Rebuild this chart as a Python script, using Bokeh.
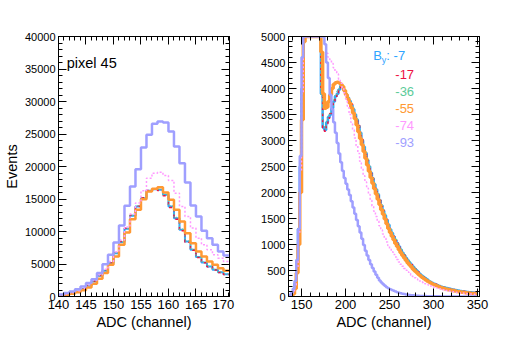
from bokeh.plotting import figure
from bokeh.layouts import row
from bokeh.models import LinearAxis, SingleIntervalTicker, Label, Range1d, CustomJSTickFormatter
from bokeh.embed import file_html
from bokeh.resources import INLINE

FONT = "Liberation Sans"

# ---------------- series ----------------
series_names = ["-7", "-17", "-36", "-55", "-74", "-93"]
series_colors = ["#2fa4ff", "#ee1144", "#5ccb9a", "#ff9933", "#ff99ff", "#9f9fff"]

# ---------------- left panel: pixel 45, bin width 1, bins 140..170 ----------------
left_bin_lo = list(range(140, 171))
left_bin_width = 1
left_m7 = [210, 360, 520, 770, 1130, 1650, 2310, 3180, 3950, 5130,
           6670, 8360, 10410, 12410, 13850, 15130, 16260, 16510, 16410, 15640,
           13850, 12050, 10260, 8470, 7180, 6060, 5240, 4620, 4110, 3750, 3440]
left_m17 = [200, 350, 530, 780, 1150, 1680, 2350, 3250, 4050, 5200,
            6750, 8450, 10500, 12500, 13900, 15200, 16300, 16450, 16300, 15500,
            13700, 11900, 10100, 8350, 7100, 6000, 5200, 4580, 4080, 3700, 3400]
left_m36 = [220, 370, 540, 790, 1160, 1680, 2330, 3200, 3980, 5150,
            6700, 8400, 10450, 12450, 13900, 15150, 16250, 16550, 16450, 15700,
            13950, 12150, 10350, 8550, 7250, 6100, 5280, 4650, 4150, 3780, 3470]
left_m55 = [150, 280, 430, 640, 950, 1380, 1950, 2750, 3600, 4880,
            6160, 7950, 9850, 11900, 13340, 14980, 16160, 16570, 16820, 16000,
            14870, 13340, 11540, 9750, 8210, 6930, 6160, 5390, 4880, 4360, 3950]
left_m74 = [230, 400, 600, 880, 1280, 1800, 2500, 3350, 4200, 5400,
            6900, 8700, 10700, 12700, 14400, 16260, 18210, 18980, 19130, 18620,
            17850, 15900, 13850, 12310, 10520, 8980, 7950, 7180, 6410, 5900, 5390]
left_m93 = [310, 520, 770, 1130, 1540, 2060, 2670, 3600, 4980, 6420,
            8310, 10930, 13950, 16930, 19590, 22920, 24870, 26560, 26920, 26770,
            25380, 23080, 20510, 17540, 14000, 12310, 10110, 8980, 7950, 6930, 6310]

# ---------------- right panel: bin width 2, bins 134..348 (shown clipped at 5000) ----------------
right_bin_lo = list(range(134, 350, 2))
right_bin_width = 2
right_m7 = [0, 15, 40, 80, 250, 600, 1300, 2500, 4000, 5000,
            5000, 5000, 5000, 5000, 5000, 5000, 5000, 5000, 5000, 3900,
            3250, 3200, 3350, 3450, 3500, 3620, 3750, 3850, 3900, 3980,
            4050, 4030, 3950, 3880, 3820, 3760, 3680, 3600, 3500, 3400,
            3280, 3150, 3000, 2880, 2760, 2620, 2500, 2380, 2270, 2160,
            2060, 1960, 1850, 1750, 1650, 1560, 1470, 1380, 1290, 1220,
            1150, 1080, 1020, 960, 900, 840, 790, 740, 690, 650,
            610, 570, 530, 500, 460, 430, 400, 375, 350, 325,
            300, 280, 260, 245, 230, 215, 200, 188, 180, 172,
            165, 155, 148, 140, 132, 125, 118, 112, 107, 102,
            97, 92, 88, 84, 80, 76, 73, 70]
right_m17 = [0, 12, 35, 75, 230, 580, 1250, 2450, 3950, 5000,
             5000, 5000, 5000, 5000, 5000, 5000, 5000, 5000, 5000, 3950,
             3200, 3180, 3320, 3430, 3520, 3600, 3740, 3830, 3920, 3990,
             4030, 4040, 3960, 3900, 3810, 3750, 3700, 3590, 3510, 3380,
             3300, 3140, 3020, 2870, 2770, 2610, 2510, 2370, 2280, 2150,
             2070, 1950, 1860, 1740, 1660, 1550, 1480, 1370, 1300, 1210,
             1160, 1070, 1030, 950, 910, 830, 800, 730, 700, 640,
             620, 560, 540, 490, 470, 420, 405, 370, 355, 320,
             305, 275, 265, 240, 235, 210, 205, 185, 183, 168,
             168, 152, 150, 137, 135, 122, 120, 110, 109, 100,
             99, 90, 90, 82, 82, 74, 75, 68]
right_m36 = [0, 18, 45, 90, 270, 620, 1330, 2550, 4050, 5000,
             5000, 5000, 5000, 5000, 5000, 5000, 5000, 5000, 5000, 3850,
             3300, 3230, 3380, 3470, 3540, 3650, 3780, 3880, 3940, 4010,
             4080, 4060, 3980, 3900, 3840, 3770, 3690, 3620, 3510, 3420,
             3290, 3170, 3010, 2900, 2770, 2640, 2510, 2400, 2280, 2180,
             2070, 1980, 1860, 1770, 1660, 1580, 1480, 1400, 1300, 1240,
             1160, 1100, 1030, 980, 910, 860, 800, 760, 700, 665,
             620, 585, 540, 510, 470, 440, 410, 385, 355, 335,
             305, 288, 265, 252, 233, 222, 203, 195, 182, 178,
             167, 160, 150, 145, 134, 130, 120, 116, 108, 106,
             98, 95, 89, 87, 81, 79, 74, 72]
right_m55 = [0, 5, 20, 50, 150, 450, 1000, 2000, 3400, 4900,
             5000, 5000, 5000, 5000, 5000, 5000, 5000, 5000, 5000, 4700,
             3900, 3620, 3640, 3750, 3880, 4000, 4080, 4110, 4120, 4110,
             4080, 4040, 3960, 3880, 3800, 3720, 3630, 3530, 3420, 3300,
             3170, 3040, 2920, 2790, 2660, 2530, 2410, 2290, 2180, 2070,
             1970, 1870, 1770, 1670, 1580, 1490, 1400, 1310, 1230, 1160,
             1090, 1020, 960, 900, 840, 790, 740, 690, 645, 605,
             565, 525, 490, 460, 430, 400, 370, 345, 320, 300,
             280, 260, 240, 225, 210, 195, 182, 170, 160, 150,
             140, 132, 125, 118, 110, 104, 98, 92, 87, 82,
             77, 72, 68, 64, 60, 56, 53, 50]
right_m74 = [0, 10, 30, 70, 220, 560, 1200, 2400, 3900, 5000,
             5000, 5000, 5000, 5000, 5000, 5000, 5000, 5000, 5000, 5000,
             5000, 4850, 4680, 4600, 4560, 4480, 4400, 4330, 4280, 4180,
             4100, 4010, 3920, 3800, 3660, 3500, 3350, 3200, 3050, 2900,
             2750, 2600, 2460, 2320, 2200, 2080, 1960, 1850, 1740, 1640,
             1540, 1450, 1360, 1280, 1200, 1120, 1050, 980, 920, 860,
             810, 760, 710, 665, 620, 580, 540, 505, 470, 440,
             410, 385, 360, 338, 316, 296, 277, 260, 244, 230,
             216, 204, 192, 180, 170, 160, 150, 140, 132, 124,
             116, 109, 102, 96, 90, 84, 79, 74, 69, 65,
             61, 57, 53, 50, 47, 44, 41, 38]
right_m93 = [10, 30, 70, 150, 300, 700, 1300, 2700, 4600, 5000,
             5000, 5000, 5000, 5000, 5000, 5000, 5000, 5000, 5000, 5000,
             5000, 4850, 4500, 4200, 3880, 3600, 3350, 3150, 2950, 2750,
             2580, 2420, 2280, 2170, 2060, 1950, 1830, 1710, 1590, 1470,
             1350, 1230, 1110, 990, 880, 790, 700, 620, 550, 480,
             420, 360, 310, 270, 235, 205, 180, 160, 140, 125,
             110, 95, 82, 72, 62, 54, 47, 40, 35, 30,
             26, 22, 19, 16, 14, 12, 10, 9, 8, 7,
             6, 5, 4, 4, 3, 3, 3, 2, 2, 2,
             2, 2, 1, 1, 1, 1, 1, 1, 1, 1,
             1, 1, 0, 0, 0, 0, 0, 0]

left_series = [left_m7, left_m17, left_m36, left_m55, left_m74, left_m93]
right_series = [right_m7, right_m17, right_m36, right_m55, right_m74, right_m93]

left_styles = [dict(line_width=2.0, line_dash="solid"),
               dict(line_width=1.5, line_dash="3 3"),
               dict(line_width=1.5, line_dash="1 2"),
               dict(line_width=2.5, line_dash="solid"),
               dict(line_width=1.5, line_dash="2 2"),
               dict(line_width=2.5, line_dash="solid")]
right_styles = [dict(line_width=2.5, line_dash="solid"),
                dict(line_width=1.5, line_dash="3 3"),
                dict(line_width=1.5, line_dash="1 2"),
                dict(line_width=3.5, line_dash="solid"),
                dict(line_width=1.5, line_dash="2 2"),
                dict(line_width=2.5, line_dash="solid")]


def step_xy(bin_lo, width, vals):
    xs = list(bin_lo) + [bin_lo[-1] + width]
    ys = list(vals) + [vals[-1]]
    return xs, ys


def style_axis(ax, interval, tick_font_size, show_labels=True):
    ax.ticker = SingleIntervalTicker(interval=interval, num_minor_ticks=5)
    ax.major_tick_in = 8
    ax.major_tick_out = 0
    ax.minor_tick_in = 4
    ax.minor_tick_out = 0
    ax.axis_line_color = "black"
    ax.major_tick_line_color = "black"
    ax.minor_tick_line_color = "black"
    ax.major_label_text_font = FONT
    ax.major_label_text_color = "black"
    ax.major_label_standoff = 3
    ax.major_label_text_font_size = tick_font_size
    if not show_labels:
        ax.formatter = CustomJSTickFormatter(code="return ''")
        ax.major_label_standoff = 0
    ax.axis_label_text_font = FONT
    ax.axis_label_text_font_style = "normal"
    ax.axis_label_text_font_size = "14.5px"
    ax.axis_label_text_color = "black"
    ax.axis_label_standoff = 2


def make_panel(xr, yr, xint, yint, border_left, border_right, fw, fh):
    p = figure(frame_width=fw, frame_height=fh, x_range=Range1d(*xr), y_range=Range1d(*yr),
               output_backend="svg", toolbar_location=None,
               min_border_left=border_left, min_border_right=border_right,
               min_border_top=36, min_border_bottom=36,
               x_axis_location=None, y_axis_location=None)
    p.grid.visible = False
    p.outline_line_color = "black"
    p.outline_line_width = 1
    p.background_fill_color = "white"
    p.border_fill_color = "white"
    xb = LinearAxis(); style_axis(xb, xint, "13px")
    yl = LinearAxis(); style_axis(yl, yint, "11px")
    xt = LinearAxis(); style_axis(xt, xint, "13px", False)
    yr_ = LinearAxis(); style_axis(yr_, yint, "11px", False)
    p.add_layout(xb, "below")
    p.add_layout(yl, "left")
    p.add_layout(xt, "above")
    p.add_layout(yr_, "right")
    return p, xb, yl


# ---------------- left figure ----------------
p1, xb1, yl1 = make_panel((140, 171.1), (0, 40000), 5, 5000, 49, 20, 171, 260)
xb1.axis_label = "ADC (channel)"
yl1.axis_label = "Events"
for vals, col, st in zip(left_series, series_colors, left_styles):
    xs, ys = step_xy(left_bin_lo, left_bin_width, vals)
    p1.step(xs, ys, mode="after", line_color=col, **st)
p1.add_layout(Label(x=141.5, y=35900, text="pixel 45", text_baseline="middle",
                    text_font=FONT, text_font_size="14.5px", text_color="black"))

# ---------------- right figure ----------------
p2, xb2, yl2 = make_panel((135.2, 352.3), (0, 5000), 50, 500, 39, 10, 191, 260)
xb2.axis_label = "ADC (channel)"
for vals, col, st in zip(right_series, series_colors, right_styles):
    xs, ys = step_xy(right_bin_lo, right_bin_width, vals)
    p2.step(xs, ys, mode="after", line_color=col, **st)

# legend-like labels
p2.add_layout(Label(x=231.5, y=4635, text="B", text_baseline="middle", text_font=FONT,
                    text_font_size="13px", text_color=series_colors[0]))
p2.add_layout(Label(x=241.3, y=4545, text="y", text_baseline="middle", text_font=FONT,
                    text_font_size="9px", text_color=series_colors[0]))
p2.add_layout(Label(x=246.4, y=4635, text=": " + series_names[0], text_baseline="middle",
                    text_font=FONT, text_font_size="13px", text_color=series_colors[0]))
legend_y = [4269, 3942, 3625, 3279, 2971]
for name, col, ly in zip(series_names[1:], series_colors[1:], legend_y):
    p2.add_layout(Label(x=256.6, y=ly, text=name, text_baseline="middle", text_font=FONT,
                        text_font_size="13px", text_color=col))

layout = row(p1, p2)
open("out.html", "w").write(file_html(layout, INLINE))
